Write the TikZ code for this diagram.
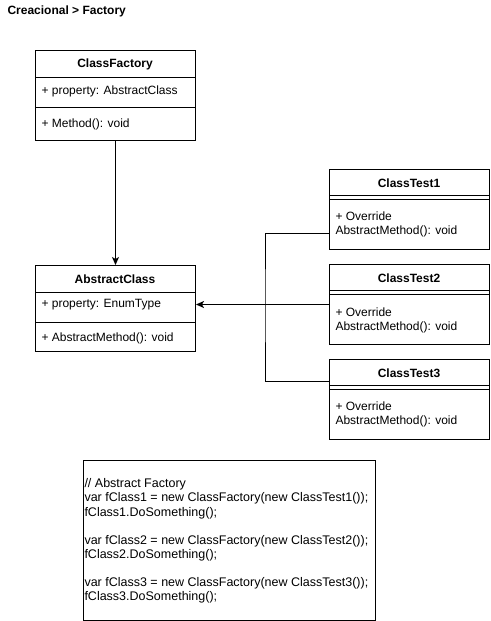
\documentclass[tikz,border=0pt]{standalone}
\usepackage{fontspec}
\setmainfont{Liberation Sans}
\usetikzlibrary{arrows.meta}
\begin{document}
\begin{tikzpicture}[x=1pt,y=-1pt,line width=1pt,
  box/.style={draw,rectangle,inner sep=0pt,anchor=north west,minimum width=160pt},
  hdr/.style={font=\fontsize{12}{14}\selectfont\bfseries,inner sep=0pt},
  txt/.style={font=\fontsize{12}{14}\selectfont,inner sep=0pt,anchor=west,align=left},
  code/.style={font=\fontsize{12.5}{14.1}\selectfont,inner sep=0pt,anchor=west,align=left},
  arr/.style={-{Stealth[length=8pt,width=7pt,inset=2pt]}},
  conn/.style={line width=1pt}]
\useasboundingbox (0,0) rectangle (490,621);

% title
\node[hdr,anchor=west] (title) at (7,11) {Creacional > Factory};

% ClassFactory
\node[box,minimum height=90pt] (cf) at (35,50) {};
\node[hdr] (cft) at (115,64) {ClassFactory};
\draw (35,77) -- (195,77);
\draw (35,107) -- (195,107);
\node[txt] (cfp) at (41,91) {+ property: AbstractClass};
\node[txt] (cfm) at (41,124) {+ Method(): void};

% AbstractClass
\node[box,minimum height=86pt] (ac) at (35,265) {};
\node[hdr] (act) at (115,279) {AbstractClass};
\draw (35,292) -- (195,292);
\draw (35,322) -- (195,322);
\node[txt] (acp) at (41,305) {+ property: EnumType};
\node[txt] (acm) at (41,338) {+ AbstractMethod(): void};

% ClassTest1
\node[box,minimum height=80pt] (t1) at (329,169) {};
\node[hdr] (t1t) at (409,183) {ClassTest1};
\draw (329,195) -- (489,195);
\draw (329,199) -- (489,199);
\node[txt] (t1m) at (335,224) {+ Override\\AbstractMethod(): void};

% ClassTest2
\node[box,minimum height=80pt] (t2) at (329,264) {};
\node[hdr] (t2t) at (409,278) {ClassTest2};
\draw (329,290) -- (489,290);
\draw (329,294) -- (489,294);
\node[txt] (t2m) at (335,320) {+ Override\\AbstractMethod(): void};

% ClassTest3
\node[box,minimum height=80pt] (t3) at (329,359) {};
\node[hdr] (t3t) at (409,373) {ClassTest3};
\draw (329,385) -- (489,385);
\draw (329,389) -- (489,389);
\node[txt] (t3m) at (335,414) {+ Override\\AbstractMethod(): void};

% connectors
\draw[conn,arr] (cf.south) -- (ac.north);
\coordinate (t1e) at (329,233);
\coordinate (t3e) at (329,381);
\coordinate (j) at (265,304);
\draw[conn] (t1e) -| (j) |- (t3e);
\draw[conn,arr] (t2.west) -- (ac.east |- t2.west);

% code box
\node[box,minimum width=292pt,minimum height=160pt] (cb) at (83,460) {};
\node[code] (cbt) at (84,541) {// Abstract Factory\\
var fClass1 = new ClassFactory(new ClassTest1());\\
fClass1.DoSomething();\\[14.1pt]
var fClass2 = new ClassFactory(new ClassTest2());\\
fClass2.DoSomething();\\[14.1pt]
var fClass3 = new ClassFactory(new ClassTest3());\\
fClass3.DoSomething();};
\end{tikzpicture}
\end{document}
